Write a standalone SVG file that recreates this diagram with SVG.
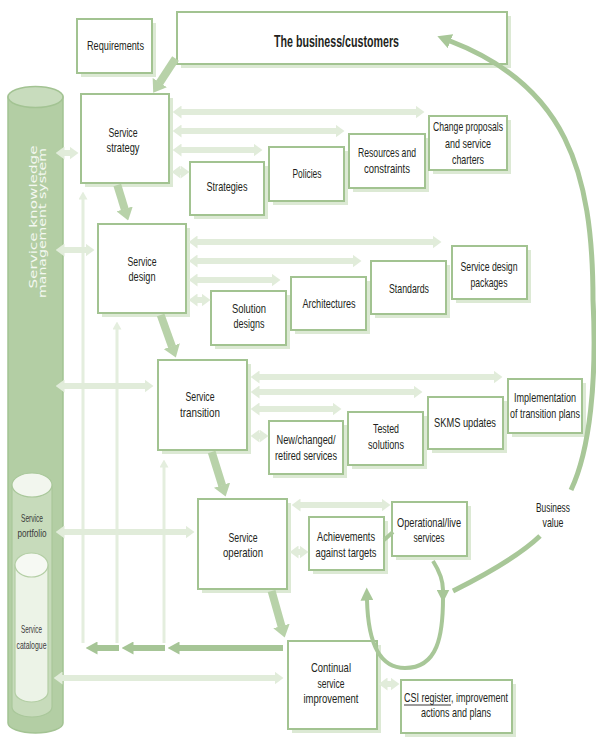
<svg xmlns="http://www.w3.org/2000/svg" width="596" height="738" viewBox="0 0 596 738">
  <style>
    .sh { fill: #dce9d4; }
    .box { fill: #ffffff; stroke: #a2c391; stroke-width: 2; }
    .t { font-family: "Liberation Sans", Arial, sans-serif; font-size: 13px; fill: #231f20; text-anchor: middle; }
    .te { font-family: "Liberation Sans", Arial, sans-serif; font-size: 13px; fill: #231f20; text-anchor: end; }
    .tb { font-family: "Liberation Sans", Arial, sans-serif; font-size: 17px; font-weight: bold; fill: #231f20; text-anchor: middle; }
    .ts { font-family: "Liberation Sans", Arial, sans-serif; font-size: 11px; fill: #3a3a3a; text-anchor: middle; }
    .tw { font-family: "DejaVu Sans", Verdana, sans-serif; font-size: 10px; fill: #f4f8f1; text-anchor: middle; }
    .light { stroke: #e1ecda; stroke-width: 6; fill: none; marker-start: url(#lh); marker-end: url(#lh); }
    .vlight { stroke: #e4eede; stroke-width: 3; fill: none; marker-end: url(#lv); }
    .stage { stroke: #b8d2a9; stroke-width: 8; fill: none; marker-end: url(#ta); }
    .dark { stroke: #a6c596; stroke-width: 6; fill: none; marker-end: url(#da); }
    .arc { stroke: #a8c798; stroke-width: 5; fill: none; }
    .loop { stroke: #a8c798; stroke-width: 4; fill: none; }
  </style>
  <defs>
    <marker id="lh" viewBox="0 0 9 13" refX="0.5" refY="6.5" markerWidth="9" markerHeight="13" markerUnits="userSpaceOnUse" orient="auto-start-reverse">
      <path d="M0,0 L9,6.5 L0,13 Z" fill="#e1ecda"/>
    </marker>
    <marker id="lv" viewBox="0 0 8 9" refX="0.5" refY="4.5" markerWidth="8" markerHeight="9" markerUnits="userSpaceOnUse" orient="auto">
      <path d="M0,0 L8,4.5 L0,9 Z" fill="#e4eede"/>
    </marker>
    <marker id="ta" viewBox="0 0 12 17" refX="0.5" refY="8.5" markerWidth="12" markerHeight="17" markerUnits="userSpaceOnUse" orient="auto">
      <path d="M0,0 L12,8.5 L0,17 Z" fill="#b8d2a9"/>
    </marker>
    <marker id="da" viewBox="0 0 12 13" refX="0.5" refY="6.5" markerWidth="12" markerHeight="13" markerUnits="userSpaceOnUse" orient="auto">
      <path d="M0,0 L12,6.5 L0,13 Z" fill="#a6c596"/>
    </marker>
    <marker id="aa" viewBox="0 0 14 15" refX="0.5" refY="7.5" markerWidth="14" markerHeight="15" markerUnits="userSpaceOnUse" orient="auto">
      <path d="M0,0 L14,7.5 L0,15 Z" fill="#a8c798"/>
    </marker>
    <marker id="la" viewBox="0 0 13 13" refX="0.5" refY="6.5" markerWidth="13" markerHeight="13" markerUnits="userSpaceOnUse" orient="auto">
      <path d="M0,0 L13,6.5 L0,13 Z" fill="#a8c798"/>
    </marker>
  </defs>

  <rect width="596" height="738" fill="#ffffff"/>

  <!-- knowledge store cylinder with nested portfolio and catalogue -->
  <g id="skms">
    <path d="M8,97 L8,723 A27.5,10 0 0 0 63,723 L63,97 Z" fill="#b3cea4" stroke="#a3c393" stroke-width="1.5"/>
    <ellipse cx="35.5" cy="97" rx="27.5" ry="10.5" fill="#c8dcbd" stroke="#a3c393" stroke-width="1.5"/>
    <text class="tw" transform="translate(37,217) rotate(-90)" textLength="143" lengthAdjust="spacingAndGlyphs">Service knowledge</text>
    <text class="tw" transform="translate(46,223) rotate(-90)" textLength="150" lengthAdjust="spacingAndGlyphs">management system</text>
  </g>
  <g id="portfolio">
    <path d="M12,485 L12,707 A20,10 0 0 0 52,707 L52,485 Z" fill="#c7dbbb" stroke="#a9c79a" stroke-width="1.2"/>
    <ellipse cx="32" cy="485" rx="20" ry="12" fill="#f2f6ee" stroke="#a9c79a" stroke-width="1.2"/>
    <text class="ts" x="32" y="522" textLength="22" lengthAdjust="spacingAndGlyphs">Service</text>
    <text class="ts" x="32" y="537" textLength="29" lengthAdjust="spacingAndGlyphs">portfolio</text>
  </g>
  <g id="catalogue">
    <path d="M15,565 L15,692 A16.5,10 0 0 0 48,692 L48,565 Z" fill="#ecf3e7" stroke="#b3cea4" stroke-width="1.2"/>
    <ellipse cx="31.5" cy="565" rx="16.5" ry="12" fill="#f6f9f3" stroke="#b3cea4" stroke-width="1.2"/>
    <text class="ts" x="31.5" y="633" textLength="21" lengthAdjust="spacingAndGlyphs">Service</text>
    <text class="ts" x="31.5" y="649" textLength="30" lengthAdjust="spacingAndGlyphs">catalogue</text>
  </g>

  <!-- nodes -->
  <g id="requirements">
    <rect class="sh" x="81" y="23" width="75" height="54"/>
    <rect class="box" x="77" y="19" width="75" height="54"/>
    <text class="t" x="115.5" y="50" textLength="57" lengthAdjust="spacingAndGlyphs">Requirements</text>
  </g>
  <g id="business">
    <rect class="sh" x="181" y="16" width="330" height="52"/>
    <rect class="box" x="177" y="12" width="330" height="52"/>
    <text class="tb" x="336.5" y="47" textLength="125" lengthAdjust="spacingAndGlyphs">The business/customers</text>
  </g>
  <g id="strategy">
    <rect class="sh" x="85" y="98" width="88" height="89"/>
    <rect class="box" x="81" y="94" width="88" height="89"/>
    <text class="t" x="123" y="137" textLength="29" lengthAdjust="spacingAndGlyphs">Service</text>
    <text class="t" x="123" y="152" textLength="33" lengthAdjust="spacingAndGlyphs">strategy</text>
  </g>
  <g id="strategies">
    <rect class="sh" x="194" y="166" width="74" height="53"/>
    <rect class="box" x="190" y="162" width="74" height="53"/>
    <text class="t" x="227" y="191" textLength="41" lengthAdjust="spacingAndGlyphs">Strategies</text>
  </g>
  <g id="policies">
    <rect class="sh" x="273" y="151" width="75" height="54"/>
    <rect class="box" x="269" y="147" width="75" height="54"/>
    <text class="t" x="307" y="178" textLength="29" lengthAdjust="spacingAndGlyphs">Policies</text>
  </g>
  <g id="resources">
    <rect class="sh" x="353" y="138" width="76" height="54"/>
    <rect class="box" x="349" y="134" width="76" height="54"/>
    <text class="t" x="387" y="157" textLength="58" lengthAdjust="spacingAndGlyphs">Resources and</text>
    <text class="t" x="387" y="173" textLength="46" lengthAdjust="spacingAndGlyphs">constraints</text>
  </g>
  <g id="change">
    <rect class="sh" x="433" y="120" width="78" height="54"/>
    <rect class="box" x="429" y="116" width="78" height="54"/>
    <text class="t" x="468" y="131" textLength="70" lengthAdjust="spacingAndGlyphs">Change proposals</text>
    <text class="t" x="468" y="148" textLength="46" lengthAdjust="spacingAndGlyphs">and service</text>
    <text class="t" x="468" y="164" textLength="32" lengthAdjust="spacingAndGlyphs">charters</text>
  </g>
  <g id="design">
    <rect class="sh" x="102" y="228" width="88" height="89"/>
    <rect class="box" x="98" y="224" width="88" height="89"/>
    <text class="t" x="142" y="266" textLength="29" lengthAdjust="spacingAndGlyphs">Service</text>
    <text class="t" x="142" y="281" textLength="27" lengthAdjust="spacingAndGlyphs">design</text>
  </g>
  <g id="solution">
    <rect class="sh" x="215" y="295" width="75" height="54"/>
    <rect class="box" x="211" y="291" width="75" height="54"/>
    <text class="t" x="249" y="313" textLength="34" lengthAdjust="spacingAndGlyphs">Solution</text>
    <text class="t" x="249" y="328" textLength="31" lengthAdjust="spacingAndGlyphs">designs</text>
  </g>
  <g id="architectures">
    <rect class="sh" x="295" y="281" width="75" height="53"/>
    <rect class="box" x="291" y="277" width="75" height="53"/>
    <text class="t" x="329" y="308" textLength="53" lengthAdjust="spacingAndGlyphs">Architectures</text>
  </g>
  <g id="standards">
    <rect class="sh" x="375" y="265" width="75" height="53"/>
    <rect class="box" x="371" y="261" width="75" height="53"/>
    <text class="t" x="409" y="293" textLength="40" lengthAdjust="spacingAndGlyphs">Standards</text>
  </g>
  <g id="packages">
    <rect class="sh" x="456" y="250" width="75" height="53"/>
    <rect class="box" x="452" y="246" width="75" height="53"/>
    <text class="t" x="489" y="271" textLength="57" lengthAdjust="spacingAndGlyphs">Service design</text>
    <text class="t" x="489" y="287" textLength="37" lengthAdjust="spacingAndGlyphs">packages</text>
  </g>
  <g id="transition">
    <rect class="sh" x="162" y="364" width="89" height="90"/>
    <rect class="box" x="158" y="360" width="89" height="90"/>
    <text class="t" x="200" y="401" textLength="29" lengthAdjust="spacingAndGlyphs">Service</text>
    <text class="t" x="200" y="417" textLength="40" lengthAdjust="spacingAndGlyphs">transition</text>
  </g>
  <g id="changed">
    <rect class="sh" x="273" y="425" width="74" height="53"/>
    <rect class="box" x="269" y="421" width="74" height="53"/>
    <text class="t" x="306" y="444" textLength="59" lengthAdjust="spacingAndGlyphs">New/changed/</text>
    <text class="t" x="306" y="460" textLength="62" lengthAdjust="spacingAndGlyphs">retired services</text>
  </g>
  <g id="tested">
    <rect class="sh" x="352" y="416" width="75" height="53"/>
    <rect class="box" x="348" y="412" width="75" height="53"/>
    <text class="t" x="386" y="433" textLength="26" lengthAdjust="spacingAndGlyphs">Tested</text>
    <text class="t" x="386" y="449" textLength="36" lengthAdjust="spacingAndGlyphs">solutions</text>
  </g>
  <g id="updates">
    <rect class="sh" x="432" y="401" width="75" height="52"/>
    <rect class="box" x="428" y="397" width="75" height="52"/>
    <text class="t" x="465" y="427" textLength="62" lengthAdjust="spacingAndGlyphs">SKMS updates</text>
  </g>
  <g id="implementation">
    <rect class="sh" x="512" y="383" width="74" height="54"/>
    <rect class="box" x="508" y="379" width="74" height="54"/>
    <text class="te" x="576" y="402" textLength="62" lengthAdjust="spacingAndGlyphs">Implementation</text>
    <text class="te" x="580" y="418" textLength="70" lengthAdjust="spacingAndGlyphs">of transition plans</text>
  </g>
  <g id="operation">
    <rect class="sh" x="202" y="503" width="89" height="90"/>
    <rect class="box" x="198" y="499" width="89" height="90"/>
    <text class="t" x="243" y="542" textLength="29" lengthAdjust="spacingAndGlyphs">Service</text>
    <text class="t" x="243" y="557" textLength="40" lengthAdjust="spacingAndGlyphs">operation</text>
  </g>
  <g id="achievements">
    <rect class="sh" x="313" y="521" width="75" height="53"/>
    <rect class="box" x="309" y="517" width="75" height="53"/>
    <text class="t" x="346" y="541" textLength="58" lengthAdjust="spacingAndGlyphs">Achievements</text>
    <text class="t" x="346" y="557" textLength="61" lengthAdjust="spacingAndGlyphs">against targets</text>
  </g>
  <g id="live">
    <rect class="sh" x="396" y="506" width="75" height="54"/>
    <rect class="box" x="392" y="502" width="75" height="54"/>
    <text class="t" x="429" y="527" textLength="64" lengthAdjust="spacingAndGlyphs">Operational/live</text>
    <text class="t" x="429" y="542" textLength="31" lengthAdjust="spacingAndGlyphs">services</text>
  </g>
  <g id="improvement">
    <rect class="sh" x="292" y="645" width="89" height="88"/>
    <rect class="box" x="288" y="641" width="89" height="88"/>
    <text class="t" x="331" y="672" textLength="40" lengthAdjust="spacingAndGlyphs">Continual</text>
    <text class="t" x="331" y="688" textLength="27" lengthAdjust="spacingAndGlyphs">service</text>
    <text class="t" x="331" y="703" textLength="55" lengthAdjust="spacingAndGlyphs">improvement</text>
  </g>
  <g id="register">
    <rect class="sh" x="405" y="684" width="111" height="53"/>
    <rect class="box" x="401" y="680" width="111" height="53"/>
    <text class="t" x="456" y="702" textLength="104" lengthAdjust="spacingAndGlyphs">CSI register, improvement</text>
    <!-- underline beneath "CSI register," -->
    <line x1="404" y1="705" x2="451" y2="705" stroke="#231f20" stroke-width="0.9"/>
    <text class="t" x="456" y="717" textLength="70" lengthAdjust="spacingAndGlyphs">actions and plans</text>
  </g>
  <g id="value">
    <text class="t" x="553" y="512" textLength="34" lengthAdjust="spacingAndGlyphs">Business</text>
    <text class="t" x="553" y="527" textLength="21" lengthAdjust="spacingAndGlyphs">value</text>
  </g>

  <!-- connectors -->
  <g id="connectors">
    <!-- vertical feedback lines -->
    <path class="vlight" d="M83,643 L83,199"/>
    <path class="vlight" d="M117,643 L117,329"/>
    <path class="vlight" d="M164,643 L164,467"/>

    <!-- store to stages -->
    <path class="light" d="M64,153 L70,153"/>
    <path class="light" d="M64,250 L86,250"/>
    <path class="light" d="M64,386 L145,386"/>
    <path class="light" d="M64,532 L186,532"/>
    <path class="light" d="M62,678 L275,678"/>

    <!-- strategy outputs -->
    <path class="light" d="M181,112 L416,112"/>
    <path class="light" d="M181,131 L336,131"/>
    <path class="light" d="M181,150 L254,150"/>
    <path class="light" d="M180,172 L181,172"/>

    <!-- design outputs -->
    <path class="light" d="M197,242 L433,242"/>
    <path class="light" d="M197,261 L353,261"/>
    <path class="light" d="M197,280 L272,280"/>
    <path class="light" d="M197,300 L202,300"/>

    <!-- transition outputs -->
    <path class="light" d="M259,377 L494,377"/>
    <path class="light" d="M259,392 L414,392"/>
    <path class="light" d="M259,409 L333,409"/>
    <path class="light" d="M259,436 L260,436"/>

    <!-- operation outputs -->
    <path class="light" d="M300,505 L382,505"/>
    <path class="light" d="M298,552 L300,552"/>

    <!-- improvement output -->
    <path class="light" d="M387,684 L391,684"/>

    <!-- lifecycle flow -->
    <path class="stage" d="M175.5,58.5 L159.5,83"/>
    <path class="stage" d="M117.3,185 L124.8,209.4"/>
    <path class="stage" d="M160.7,315 L172,346.7"/>
    <path class="stage" d="M211.7,452 L222.2,485.6"/>
    <path class="stage" d="M271.6,591 L281.6,626.5"/>

    <!-- improvement feedback -->
    <path class="dark" d="M283,648 L179,648"/>
    <path class="dark" d="M165,648 L133,648"/>
    <path class="dark" d="M119,648 L97,648"/>

    <!-- business value -->
    <path class="arc" d="M453,591 C485,575 520,555 540,536"/>
    <path class="arc" d="M571,490 C590,450 597,380 593,300 C593,170 565,85 450,41" marker-end="url(#aa)"/>

    <!-- operation improvement loop -->
    <path class="loop" d="M433,561 C440,572 443,582 443,590" marker-end="url(#la)"/>
    <path class="loop" d="M443,598 C443,635 438,668 405,668 C378,668 368,640 367,600" marker-end="url(#la)"/>
    <path class="loop" d="M384,540 L393,532"/>
  </g>
</svg>
